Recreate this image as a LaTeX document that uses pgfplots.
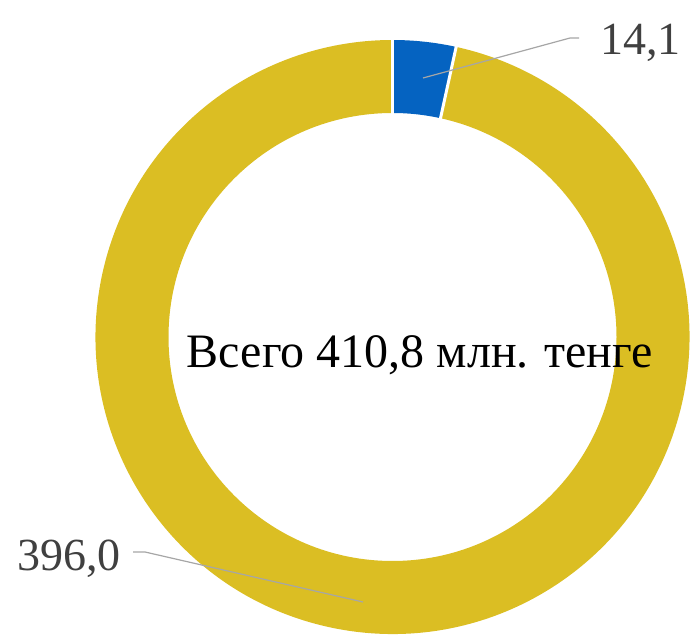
\documentclass[border=0pt]{standalone}
\usepackage{pgfplots}
\pgfplotsset{compat=1.18}
\usepackage{fontspec}
\setmainfont{Liberation Serif}
\definecolor{donutyellow}{HTML}{DBBE23}
\definecolor{donutblue}{HTML}{0563C1}
\definecolor{labelgray}{HTML}{404040}
\definecolor{leadergray}{HTML}{A6A6A6}
% data
\pgfmathsetmacro{\va}{14.1}
\pgfmathsetmacro{\vb}{396.0}
\pgfmathsetmacro{\tot}{\va+\vb}
\pgfmathsetmacro{\fa}{\va/\tot}
\pgfmathsetmacro{\fb}{\vb/\tot}
\pgfmathsetmacro{\aa}{90-360*\fa}
\pgfmathsetmacro{\ab}{\aa-360*\fb}
\begin{document}
\begin{tikzpicture}
\begin{axis}[width=691pt,height=638pt,scale only axis,
  xmin=0,xmax=691,ymin=0,ymax=638,enlargelimits=false,
  hide axis,clip=false]
\begin{scope}[shift={(axis cs:392.5,301)}]
  \fill[donutblue] (90:297pt) arc[start angle=90,end angle=\aa,radius=297pt]
     -- (\aa:224pt) arc[start angle=\aa,end angle=90,radius=224pt] -- cycle;
  \fill[donutyellow] (\aa:297pt) arc[start angle=\aa,end angle=\ab,radius=297pt]
     -- (\ab:224pt) arc[start angle=\ab,end angle=\aa,radius=224pt] -- cycle;
  \draw[white,line width=3pt] (90:220pt) -- (90:300pt);
  \draw[white,line width=3pt] (\aa:220pt) -- (\aa:300pt);
\end{scope}
\draw[leadergray,line width=1.2pt] (axis cs:423,560) -- (axis cs:570,600) -- (axis cs:579,600);
\draw[leadergray,line width=1.2pt] (axis cs:133,86) -- (axis cs:145,86) -- (axis cs:363,36);
\node[anchor=base west,inner sep=0pt,text=labelgray,font=\fontsize{46}{50}\selectfont] at (axis cs:600,583) {14,1};
\node[anchor=base east,inner sep=0pt,text=labelgray,font=\fontsize{46}{50}\selectfont] at (axis cs:121,68) {396,0};
\node[anchor=base,inner sep=0pt,text=black,font=\fontsize{48}{52}\selectfont] at (axis cs:420,270) {Всего 410,8 млн. тенге};
\end{axis}
\pgfresetboundingbox
\useasboundingbox (current axis.south west) rectangle (current axis.north east);
\end{tikzpicture}
\end{document}
